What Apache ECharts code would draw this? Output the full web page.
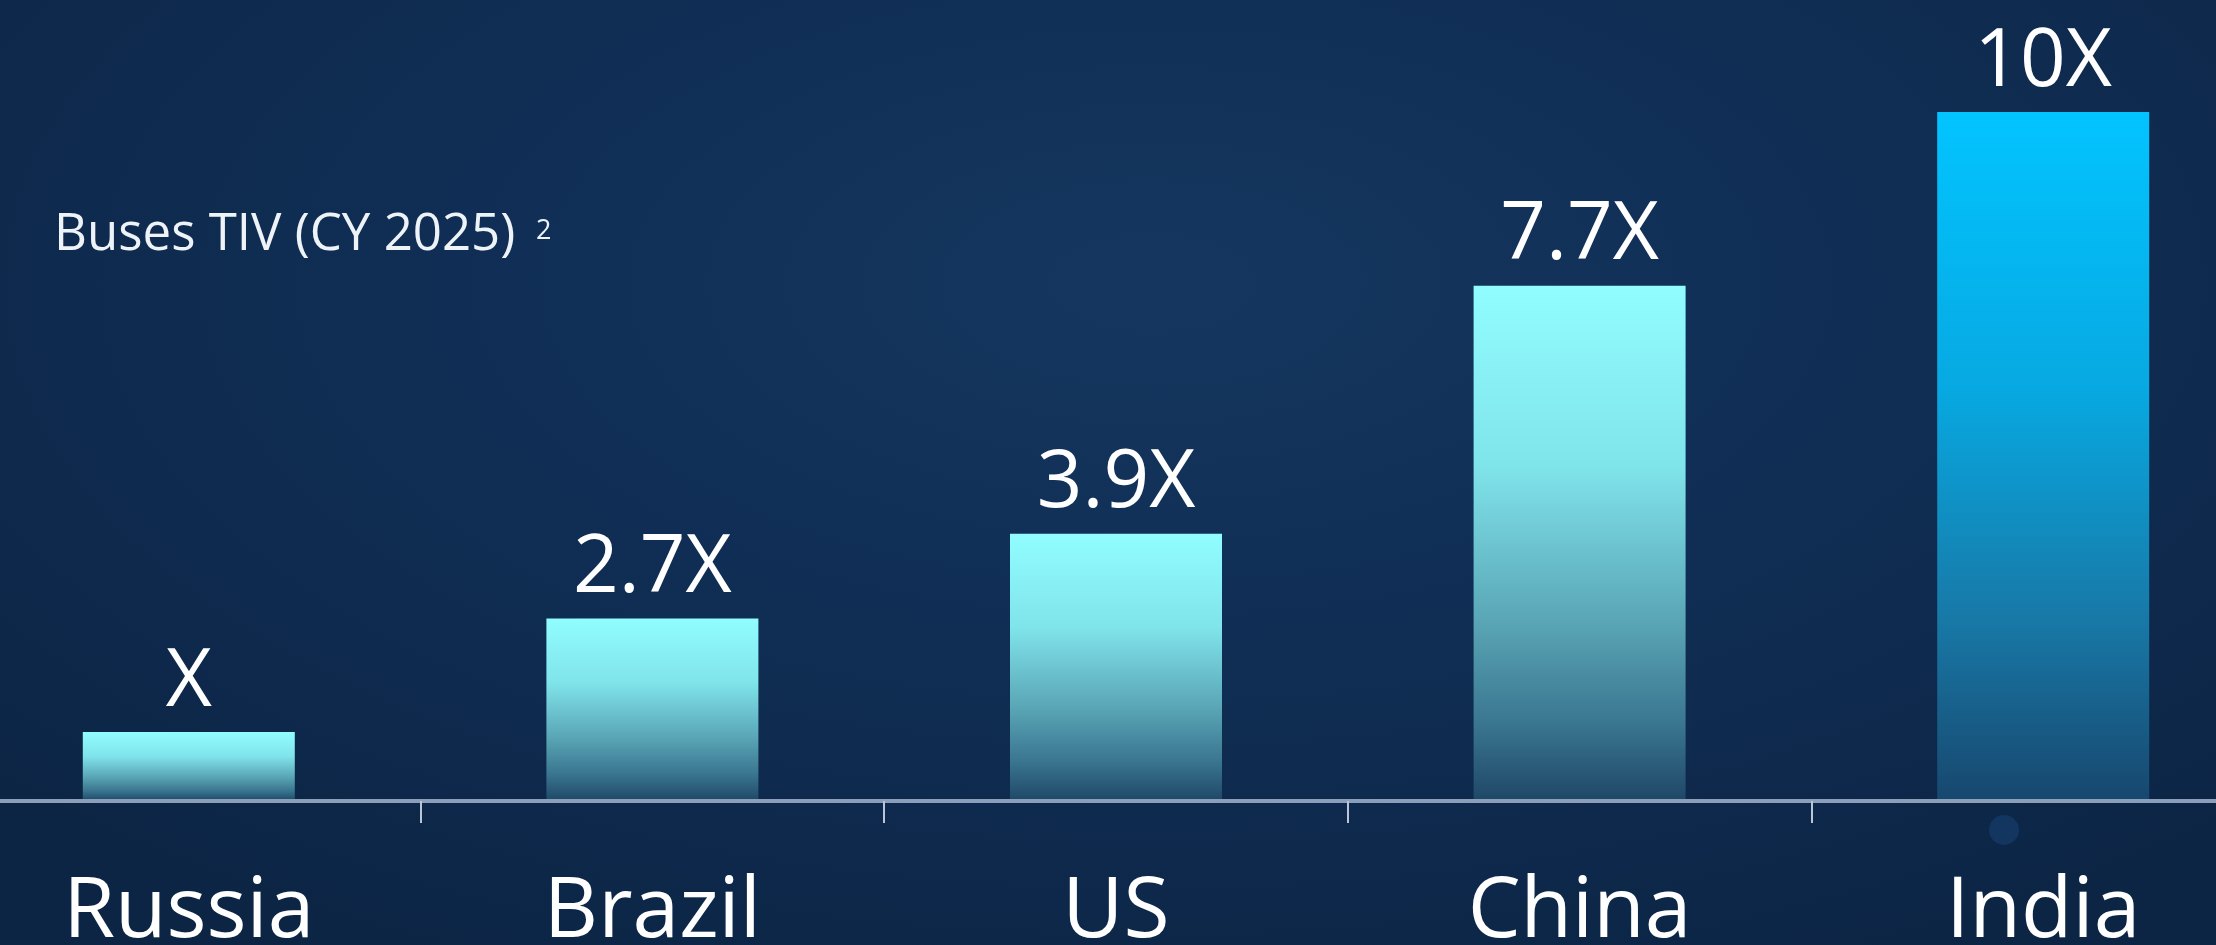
<!DOCTYPE html>
<html>
<head>
<meta charset="utf-8">
<script src="https://cdn.jsdelivr.net/npm/echarts@6/dist/echarts.min.js"></script>
<style>
  html, body { margin: 0; padding: 0; }
  body {
    width: 2216px; height: 945px; overflow: hidden; position: relative;
    background: radial-gradient(ellipse 70% 80% at 52% 30%, #15375f 0%, #102e55 45%, #0c2545 100%);
  }
  #chart { position: absolute; left: -43px; top: 0; width: 2318px; height: 945px; }
</style>
</head>
<body>
<div id="chart"></div>
<script>
// ---- data ----
const categories = ["Russia", "Brazil", "US", "China", "India"];
const barValues = [1.0, 2.65, 3.88, 7.48, 10.0];
const barLabels = ["X", "2.7X", "3.9X", "7.7X", "10X"];
const subtitleText = "Buses TIV (CY 2025)";
const subtitleNote = "2";

const cyanGradient = {
  type: 'linear', x: 0, y: 0, x2: 0, y2: 1,
  colorStops: [
    { offset: 0, color: '#91fdff' },
    { offset: 0.35, color: '#80e4eb' },
    { offset: 0.65, color: '#5aa6b6' },
    { offset: 0.85, color: '#3a7690' },
    { offset: 1, color: '#1f4767' }
  ]
};
const blueGradient = {
  type: 'linear', x: 0, y: 0, x2: 0, y2: 1,
  colorStops: [
    { offset: 0, color: '#02c4ff' },
    { offset: 0.4, color: '#07a9e2' },
    { offset: 0.74, color: '#1878a6' },
    { offset: 1, color: '#17476e' }
  ]
};

const OFFSET = 43; // chart div starts 43px left of the page
const chart = echarts.init(document.getElementById('chart'), null, { renderer: 'canvas' });

const seriesData = barValues.map((v, i) => ({
  value: v,
  itemStyle: { color: i === barValues.length - 1 ? blueGradient : cyanGradient }
}));

chart.setOption({
  backgroundColor: 'transparent',
  animation: false,
  textStyle: { fontFamily: '"Open Sans", "Noto Sans", sans-serif' },
  grid: { left: 0, right: 0, top: 112, bottom: 144, containLabel: false, outerBoundsMode: 'none' },
  xAxis: {
    type: 'category',
    data: categories,
    boundaryGap: true,
    axisLine: { show: true, lineStyle: { color: '#8c9fba', width: 4 } },
    axisTick: { show: true, length: 22, lineStyle: { color: '#b8c6d8', width: 2 } },
    axisLabel: {
      color: '#ffffff', fontSize: 84, margin: 70,
      fontFamily: '"Open Sans", "Noto Sans", sans-serif'
    },
    z: 5
  },
  yAxis: {
    type: 'value', min: 0, max: 10, show: false,
    splitLine: { show: false }
  },
  series: [{
    type: 'bar',
    data: seriesData,
    barWidth: 212,
    z: 2,
    label: {
      show: true,
      position: 'top',
      distance: 9,
      color: '#ffffff',
      fontSize: 80,
      fontFamily: '"Open Sans", "Noto Sans", sans-serif',
      formatter: (p) => barLabels[p.dataIndex]
    }
  }],
  graphic: [
    {
      type: 'circle', shape: { cx: 2004 + OFFSET, cy: 830, r: 15 },
      style: { fill: 'rgba(40,100,170,0.25)' }, silent: true, z: 0
    },
    {
      type: 'text', left: 54 + OFFSET, top: 210,
      style: {
        text: subtitleText, fill: '#eef3f8', fontSize: 51,
        fontFamily: '"Open Sans", "Noto Sans", sans-serif'
      }
    },
    {
      type: 'text', left: 536 + OFFSET, top: 218,
      style: {
        text: subtitleNote, fill: '#eef3f8', fontSize: 27,
        fontFamily: '"Open Sans", "Noto Sans", sans-serif'
      }
    }
  ]
});
</script>
</body>
</html>
